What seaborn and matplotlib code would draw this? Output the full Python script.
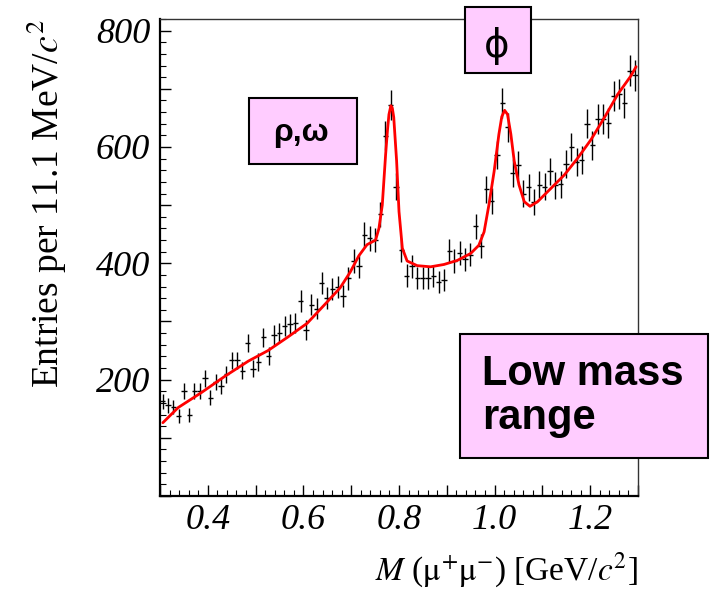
import numpy as np
import pandas as pd
import matplotlib
matplotlib.use("Agg")
import matplotlib.pyplot as plt
import seaborn as sns
from matplotlib.patches import Rectangle
from matplotlib.ticker import MultipleLocator, FuncFormatter

# --------------------------------------------------------------
# Data
# --------------------------------------------------------------
bin_lo = 0.3
bin_width = 0.0111
counts = [
    163, 156, 153, 137, 180, 139, 181, 180, 202, 169,
    196, 189, 209, 233, 233, 215, 263, 219, 230, 273,
    241, 277, 281, 292, 296, 298, 335, 285, 329, 322,
    366, 340, 356, 359, 344, 374, 404, 395, 449, 443,
    440, 484, 619, 672, 532, 423, 379, 395, 375, 375,
    375, 378, 368, 371, 421, 404, 418, 407, 415, 464,
    430, 527, 507, 586, 676, 634, 555, 569, 520, 531,
    506, 535, 532, 558, 534, 536, 571, 600, 574, 577,
    640, 603, 648, 648, 641, 688, 691, 676, 731, 723,
]

fit_mass = [
    0.306, 0.338, 0.387, 0.436, 0.485, 0.526, 0.567, 0.608, 0.649, 0.677,
    0.698, 0.716, 0.733, 0.751, 0.758, 0.765, 0.772, 0.776, 0.779, 0.783,
    0.786, 0.789, 0.795, 0.800, 0.807, 0.817, 0.838, 0.866, 0.894, 0.922,
    0.950, 0.967, 0.978, 0.988, 0.999, 1.009, 1.015, 1.021, 1.027, 1.034,
    1.041, 1.051, 1.062, 1.074, 1.090, 1.118, 1.146, 1.174, 1.202, 1.230,
    1.258, 1.285, 1.296,
]
fit_entries = [
    126, 152, 178, 206, 232, 250, 273, 297, 333, 358,
    385, 413, 432, 440, 460, 500, 587, 630, 656, 671,
    667, 651, 576, 489, 426, 404, 396, 394, 398, 405,
    417, 431, 454, 500, 558, 622, 652, 663, 656, 622,
    576, 535, 506, 498, 506, 529, 552, 581, 613, 651,
    691, 722, 738,
]

centers = bin_lo + bin_width * (np.arange(len(counts)) + 0.5)
data_df = pd.DataFrame({"mass": centers, "entries": counts})
data_df["err"] = np.sqrt(data_df["entries"])
fit_df = pd.DataFrame({"mass": fit_mass, "entries": fit_entries})

# --------------------------------------------------------------
# Plot
# --------------------------------------------------------------
sns.set_style("white")
plt.rcParams["font.family"] = ["Liberation Serif", "DejaVu Serif"]
plt.rcParams["mathtext.fontset"] = "stix"
for key in ["text.color", "axes.labelcolor", "xtick.color", "ytick.color"]:
    plt.rcParams[key] = "black"

fig = plt.figure(figsize=(7.17, 5.91), dpi=100)
W, H = 717, 591
ax = fig.add_axes([160 / W, 1 - 496 / H, (638 - 160) / W, (496 - 19) / H])

ax.errorbar(data_df["mass"], data_df["entries"], yerr=data_df["err"],
            xerr=bin_width / 2, fmt="none", ecolor="black", elinewidth=1.0,
            capsize=0, zorder=2)
sns.lineplot(data=fit_df, x="mass", y="entries", color="red", lw=2.0,
             ax=ax, zorder=3)

ax.set_xlim(0.3, 1.3)
ax.set_ylim(0, 820)

ax.xaxis.set_major_locator(MultipleLocator(0.1))
ax.xaxis.set_minor_locator(MultipleLocator(0.02))
ax.yaxis.set_major_locator(MultipleLocator(100))
ax.yaxis.set_minor_locator(MultipleLocator(20))
ax.xaxis.set_major_formatter(FuncFormatter(
    lambda v, p: f"{v:.1f}" if round(v * 10) % 2 == 0 and v > 0.35 else ""))
ax.yaxis.set_major_formatter(FuncFormatter(
    lambda v, p: f"{v:.0f}" if round(v) % 200 == 0 and v > 0 else ""))

ax.tick_params(axis="both", which="both", direction="in", color="black",
               bottom=True, left=True, top=False, right=False)
ax.tick_params(axis="both", which="major", length=8, width=1.0)
ax.tick_params(axis="both", which="minor", length=4, width=0.8)
ax.tick_params(axis="x", which="major", pad=6)
ax.tick_params(axis="y", which="major", pad=7)
for lab in ax.get_xticklabels() + ax.get_yticklabels():
    lab.set_fontstyle("italic")
    lab.set_fontsize(26)

for side in ["left", "bottom"]:
    ax.spines[side].set_linewidth(1.6)
    ax.spines[side].set_color("black")
for side in ["top", "right"]:
    ax.spines[side].set_linewidth(1.0)
    ax.spines[side].set_color("#333333")

ax.set_xlabel(r"$M$ ($\mathrm{\mu}^{+}\mathrm{\mu}^{-}$) [GeV/$c^{2}$]",
              fontsize=24, loc="right")
ax.xaxis.label.set_va("baseline")
ax.xaxis.set_label_coords(1.0, -0.176)
ax.set_ylabel(r"Entries per 11.1 MeV/$c^{2}$", fontsize=27, loc="top")
ax.yaxis.set_label_coords(-0.19, 1.0)


def label_box(x0, y0, x1, y1, text, tx, ty, **kw):
    # box given in pixel coordinates from the top-left corner
    fig.add_artist(Rectangle((x0 / W, 1 - y1 / H), (x1 - x0) / W, (y1 - y0) / H,
                             transform=fig.transFigure, facecolor="#ffccff",
                             edgecolor="black", lw=1.5, zorder=5))
    fig.text(tx / W, 1 - ty / H, text, zorder=6, color="black", **kw)


label_box(249, 98, 357, 164, "ρ,ω", 301, 133, ha="center", va="center",
          fontsize=23, fontweight="bold",
          family=["Liberation Sans", "DejaVu Sans"])
label_box(465, 7, 531, 73, "ϕ", 497, 46, ha="center", va="center",
          fontsize=28, family=["DejaVu Sans"])
label_box(460, 334, 708, 458, "Low mass\nrange", 482, 396, ha="left",
          va="center", fontsize=30, fontweight="bold", linespacing=1.1,
          family=["Liberation Sans", "DejaVu Sans"])

plt.savefig("out.png", dpi=100)
